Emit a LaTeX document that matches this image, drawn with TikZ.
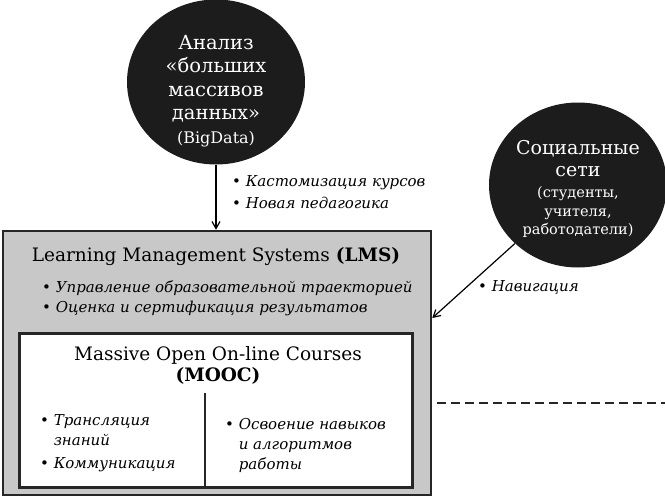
\documentclass[tikz,border=0pt]{standalone}
\usepackage{fontspec}
\setmainfont{DejaVu Serif}
\usetikzlibrary{shapes.geometric}
\usetikzlibrary{arrows.meta}
\usetikzlibrary{positioning}
\definecolor{bubblegray}{HTML}{1C1C1C}
\definecolor{lmsgray}{HTML}{C8C8C8}
\definecolor{edgegray}{HTML}{262626}

\begin{document}
\begin{tikzpicture}[x=1pt,y=-1pt,
  bubble/.style={ellipse,fill=bubblegray,draw=none,minimum width=178pt,minimum height=165pt,inner sep=0pt},
  bubbletext/.style={text=white,align=center,font=\fontsize{19.5}{23.5}\selectfont},
  note/.style={font=\fontsize{15}{20}\selectfont\itshape,anchor=west,align=left,inner sep=0pt},
  feed/.style={draw=black,line width=1.2pt,-{Straight Barb[length=7pt,width=8pt]}}]
\useasboundingbox (0,0) rectangle (665,498);
% the two data sources
\node[bubble] (bigdata) at (216,82) {};
\node[bubbletext] (bigdatatext) at (216,91) {Анализ\\«больших\\массивов\\данных»\\{\fontsize{16}{20}\selectfont(BigData)}};
\node[bubble] (social) at (578,185) {};
\node[bubbletext,font=\fontsize{19}{19}\selectfont] (socialtext) at (578,189) {Социальные\\[3pt]сети\\[2pt]{\fontsize{14.5}{19}\selectfont(студенты,}\\{\fontsize{14.5}{19}\selectfont учителя,}\\[-1pt]{\fontsize{14.5}{19}\selectfont работодатели)}};

% LMS and MOOC boxes
\node[draw=edgegray,fill=lmsgray,line width=2.6pt,minimum width=428pt,minimum height=264pt,inner sep=0pt] (lms) at (217,363) {};
\node[font=\fontsize{18.5}{22}\selectfont] (lmstitle) at (216,257) {Learning Management Systems \textbf{(LMS)}};
\node[note] (lmsnote1) at (42,288) {• Управление образовательной траекторией};
\node[note] (lmsnote2) at (42,308) {• Оценка и сертификация результатов};

\node[draw=edgegray,fill=white,line width=2.6pt,minimum width=393pt,minimum height=154pt,inner sep=0pt] (mooc) at (216,410.5) {};
\node[align=center,font=\fontsize{18.5}{21}\selectfont] (mooctitle) at (218,365) {Massive Open On-line Courses\\\textbf{(MOOC)}};
\coordinate (divtop) at (205,393);
\draw[edgegray,line width=1.6pt] (divtop) -- (divtop |- mooc.south);
\node[note] (moocleft1) at (40,430) {• Трансляция\\\hphantom{• }знаний};
\node[note] (moocleft2) at (40,465) {• Коммуникация};
\node[note] (moocright) at (225,445) {• Освоение навыков\\\hphantom{• }и алгоритмов\\\hphantom{• }работы};

% connectors
\draw[feed] (bigdata.south) -- (bigdata.south |- lms.north);
\node[note] (bigdatanote1) at (232,183) {• Кастомизация курсов};
\node[note] (bigdatanote2) at (232,203) {• Новая педагогика};
\coordinate (navend) at (lms.east |- 0,318);
\draw[feed] (social.south west) -- (navend);
\node[note] (socialnote) at (478,288) {• Навигация};

\coordinate (dashstart) at (437,403);
\coordinate (dashend) at (665,403);
\draw[edgegray,line width=2.6pt,dash pattern=on 9pt off 5pt] (dashstart) -- (dashend);
\end{tikzpicture}
\end{document}
